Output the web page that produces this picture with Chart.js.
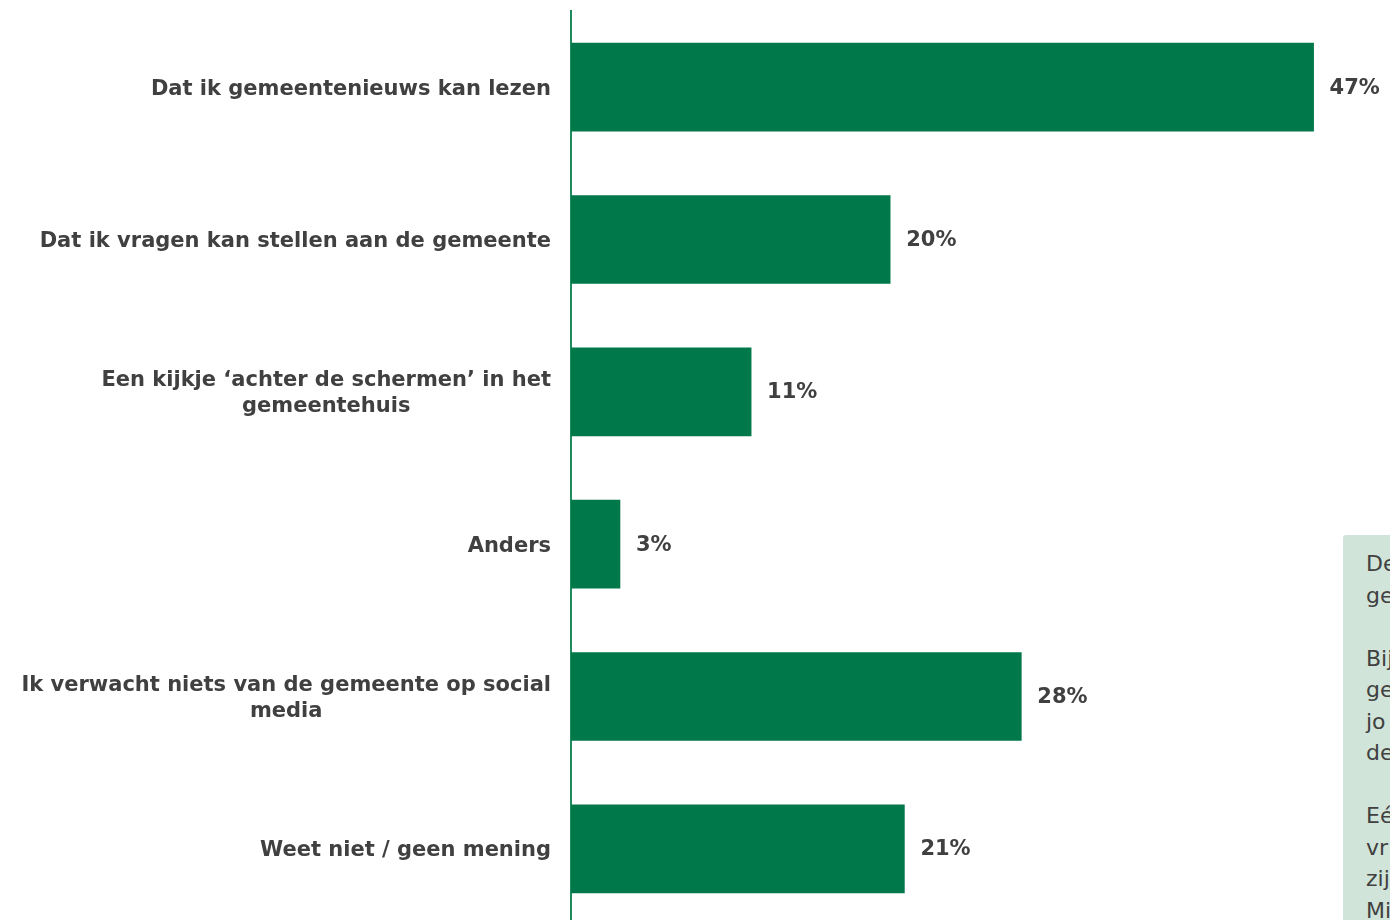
<!DOCTYPE html>
<html>
<head>
<meta charset="utf-8">
<script src="https://cdn.jsdelivr.net/npm/chart.js@4"></script>
<style>
    html, body { margin: 0; padding: 0; background: #fff; overflow: hidden; }
    #wrap { position: relative; width: 1390px; height: 920px; overflow: hidden; }
    #grafico { position: absolute; left: 0; top: 0; }
    #kader {
        position: absolute; left: 1343px; top: 535px; width: 400px; height: 420px;
        background: #d1e4d9; border-radius: 3px;
        font-family: "DejaVu Sans", Verdana, sans-serif; font-size: 22px; line-height: 31.5px;
        color: #404040; padding: 13px 0 0 23px; box-sizing: border-box;
    }
</style>
</head>
<body>
<div id="wrap">
    <canvas id="grafico" width="1390" height="940"></canvas>
    <div id="kader">De<br>ge<br><br>Bij<br>ge<br>jo<br>de<br><br>Eé<br>vr<br>zij<br>Mi</div>
</div>
<script>
const categorieen = [
    ['Dat ik gemeentenieuws kan lezen'],
    ['Dat ik vragen kan stellen aan de gemeente'],
    ['Een kijkje \u2018achter de schermen\u2019 in het', 'gemeentehuis'],
    ['Anders'],
    ['Ik verwacht niets van de gemeente op social', 'media'],
    ['Weet niet / geen mening']
];
const waarden = [47, 20.2, 11.4, 3.1, 28.5, 21.1];
const labelsPct = ['47%', '20%', '11%', '3%', '28%', '21%'];

const groen = '#00784a';
const tekstKleur = '#404040';
const fontLabel = 'bold 21px "DejaVu Sans", Verdana, sans-serif';

// labels links: per blok rechts uitgelijnd, regels onderling gecentreerd
const labelPlugin = {
    id: 'labelPlugin',
    afterDraw(chart) {
        const ctx = chart.ctx;
        const y = chart.scales.y;
        ctx.save();
        ctx.font = fontLabel;
        ctx.fillStyle = tekstKleur;
        ctx.textAlign = 'center';
        ctx.textBaseline = 'middle';
        const rechts = 551;
        const regelHoogte = 26;
        categorieen.forEach((regels, i) => {
            const yc = y.getPixelForValue(i) + 2;
            const breedte = Math.max(...regels.map(r => ctx.measureText(r).width));
            const xc = rechts - breedte / 2;
            const start = yc - (regels.length - 1) * regelHoogte / 2;
            regels.forEach((r, j) => ctx.fillText(r, xc, start + j * regelHoogte));
        });
        // waarden rechts van de balken
        ctx.textAlign = 'left';
        chart.getDatasetMeta(0).data.forEach((bar, i) => {
            ctx.fillText(labelsPct[i], bar.x + 16, bar.y + 1);
        });
        ctx.restore();
    }
};

const ctx = document.getElementById('grafico').getContext('2d');
new Chart(ctx, {
    type: 'bar',
    data: {
        labels: categorieen.map(c => c.join(' ')),
        datasets: [{
            data: waarden,
            backgroundColor: groen,
            borderWidth: 0,
            barThickness: 88
        }]
    },
    options: {
        indexAxis: 'y',
        responsive: false,
        animation: false,
        layout: { padding: { top: 11, bottom: 15, right: 29, left: 0 } },
        plugins: {
            legend: { display: false },
            tooltip: { enabled: false }
        },
        scales: {
            x: {
                display: false,
                min: 0,
                max: 50
            },
            y: {
                afterFit: function (scale) { scale.width = 571; },
                ticks: { display: false },
                grid: { display: false, drawTicks: false },
                border: { display: true, color: '#1f8a5c', width: 2 }
            }
        }
    },
    plugins: [labelPlugin]
});
</script>
</body>
</html>
